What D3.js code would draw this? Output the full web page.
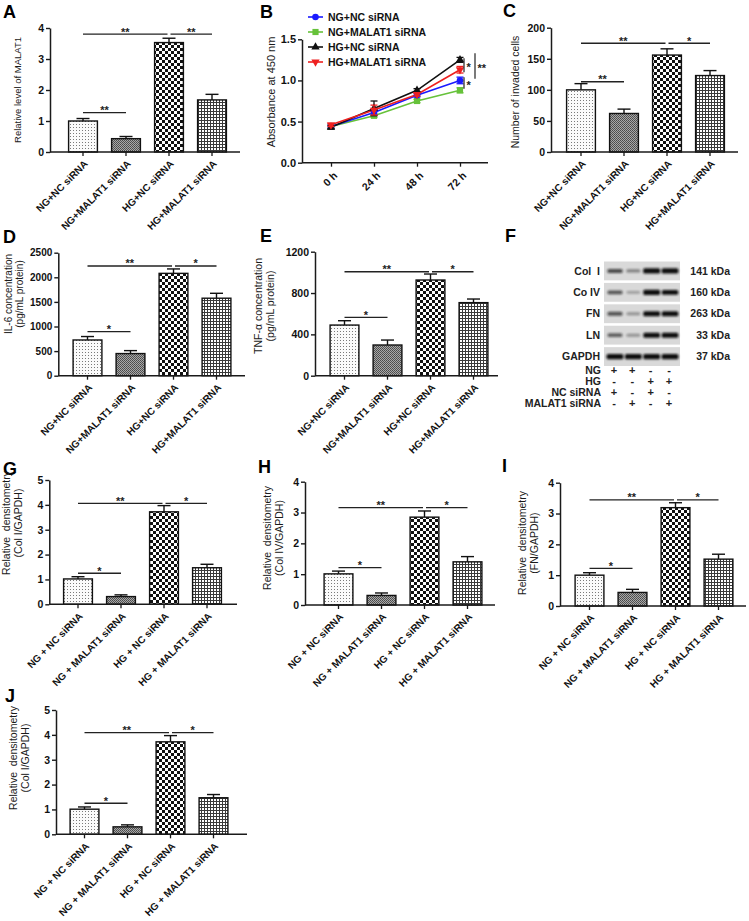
<!DOCTYPE html>
<html><head><meta charset="utf-8">
<script src="https://cdn.jsdelivr.net/npm/d3@7/dist/d3.min.js"></script>
<style>
body{margin:0;background:#fff;}
svg{display:block;font-family:"Liberation Sans",Arial,sans-serif;}
text{white-space:pre;}
</style></head><body>
<svg id="c" width="749" height="921"></svg>
<script>
// ---------------- DATA ----------------
const groups1 = ["NG+NC siRNA","NG+MALAT1 siRNA","HG+NC siRNA","HG+MALAT1 siRNA"];
const groups2 = ["NG + NC siRNA","NG + MALAT1 siRNA","HG + NC siRNA","HG + MALAT1 siRNA"];

const malat1Mean = [1.0, 0.43, 3.53, 1.68];
const malat1Sem  = [0.08, 0.07, 0.14, 0.18];
const malat1Ticks = [0,1,2,3,4];
const malat1Sig = [[0,1,1.27,"**"],[0,2,3.80,"**"],[2,3,3.80,"**"]];

const hours = ["0 h","24 h","48 h","72 h"];
const ccSeries = ["NG+NC siRNA","NG+MALAT1 siRNA","HG+NC siRNA","HG+MALAT1 siRNA"];
const ccNGNC   = [0.44, 0.61, 0.82, 1.00];
const ccNGMAL  = [0.44, 0.57, 0.75, 0.88];
const ccHGNC   = [0.43, 0.66, 0.88, 1.25];
const ccHGMAL  = [0.46, 0.64, 0.83, 1.13];
const ccErrNGNC  = [0.02, 0.03, 0.02, 0.04];
const ccErrNGMAL = [0.02, 0.02, 0.02, 0.03];
const ccErrHGNC  = [0.02, 0.09, 0.02, 0.03];
const ccErrHGMAL = [0.02, 0.06, 0.02, 0.04];
const ccTicks = [0, 0.5, 1.0, 1.5];
const ccSig = [[1.27, 1.10, "*"], [1.33, 1.02, "**"], [1.04, 0.90, "*"]];

const invMean = [100, 62, 156, 123];
const invSem  = [10, 7, 10, 8];
const invTicks = [0,50,100,150,200];
const invSig = [[0,1,113,"**"],[0,2,175,"**"],[2,3,175,"*"]];

const il6Mean = [726, 450, 2080, 1575];
const il6Sem  = [70, 60, 90, 100];
const il6Ticks = [0,500,1000,1500,2000,2500];
const il6Sig = [[0,1,894,"*"],[0,2,2230,"**"],[2,3,2230,"*"]];

const tnfMean = [490, 297, 926, 707];
const tnfSem  = [42, 48, 58, 35];
const tnfTicks = [0,400,800,1200];
const tnfSig = [[0,1,565,"*"],[0,2,1006,"**"],[2,3,1006,"*"]];

const proteins = ["Col  I","Co IV","FN","LN","GAPDH"];
const kda = ["141 kDa","160 kDa","263 kDa","33 kDa","37 kDa"];
const bandIntensity = [
  [0.55, 0.28, 1.0, 0.95],
  [0.50, 0.15, 0.95, 0.85],
  [0.50, 0.20, 0.95, 0.90],
  [0.45, 0.20, 0.90, 0.90],
  [0.95, 0.95, 0.95, 0.95]
];
const condRows = ["NG","HG","NC siRNA","MALAT1 siRNA"];
const condSigns = [["+","+","-","-"],["-","-","+","+"],["+","-","+","-"],["-","+","-","+"]];

const col1Mean = [1.02, 0.31, 3.72, 1.47];
const col1Sem  = [0.09, 0.07, 0.25, 0.14];
const col4Mean = [1.01, 0.31, 2.85, 1.40];
const col4Sem  = [0.09, 0.08, 0.20, 0.17];
const fnMean   = [1.00, 0.44, 3.19, 1.52];
const fnSem    = [0.08, 0.10, 0.16, 0.16];
const lnMean   = [1.01, 0.30, 3.72, 1.47];
const lnSem    = [0.09, 0.08, 0.25, 0.13];
const ticks5 = [0,1,2,3,4,5];
const ticks4 = [0,1,2,3,4];
const col1Sig = [[0,1,1.25,"*"],[0,2,4.06,"**"],[2,3,4.06,"*"]];
const col4Sig = [[0,1,1.21,"*"],[0,2,3.16,"**"],[2,3,3.16,"*"]];
const fnSig   = [[0,1,1.22,"*"],[0,2,3.44,"**"],[2,3,3.44,"*"]];
const lnSig   = [[0,1,1.25,"*"],[0,2,4.09,"**"],[2,3,4.09,"*"]];

// ---------------- DRAW ----------------
const svg = d3.select("#c");
const defs = svg.append("defs");
function pat(id, w, h, draw){
  const p = defs.append("pattern").attr("id",id).attr("patternUnits","userSpaceOnUse").attr("width",w).attr("height",h);
  draw(p);
}
pat("p0",3,3,p=>{
  p.append("rect").attr("width",3).attr("height",3).attr("fill","#fbfbfb");
  p.append("rect").attr("x",1).attr("y",1).attr("width",1).attr("height",1).attr("fill","#7a7a7a");
});
pat("p1",2,2,p=>{
  p.append("rect").attr("width",2).attr("height",2).attr("fill","#a8a8a8");
  p.append("rect").attr("width",1).attr("height",1).attr("fill","#4a4a4a");
  p.append("rect").attr("x",1).attr("y",1).attr("width",1).attr("height",1).attr("fill","#555");
});
pat("p2",6,6,p=>{
  p.append("rect").attr("width",6).attr("height",6).attr("fill","#fff");
  p.append("rect").attr("width",3).attr("height",3).attr("fill","#111");
  p.append("rect").attr("x",3).attr("y",3).attr("width",3).attr("height",3).attr("fill","#111");
});
pat("p3",3,3,p=>{
  p.append("rect").attr("width",3).attr("height",3).attr("fill","#fff");
  p.append("path").attr("d","M0,0.5H3M0.5,0V3").attr("stroke","#3a3a3a").attr("stroke-width",1);
});
const blur = defs.append("filter").attr("id","blur").attr("x","-20%").attr("y","-60%").attr("width","140%").attr("height","220%");
blur.append("feGaussianBlur").attr("stdDeviation",0.8);

const AX = "#1a1a1a";
const fmtInt = d3.format("d");

function letter(t,x,y){
  svg.append("text").attr("x",x).attr("y",y).text(t)
    .attr("font-size",18).attr("font-weight","bold").attr("fill","#000");
}
function yTitle(lines, cx, cy, size){
  const n = lines.length, lh = size*1.12;
  lines.forEach((l,i)=>{
    const x = cx + (i-(n-1)/2)*lh;
    svg.append("text").attr("transform",`translate(${x},${cy}) rotate(-90)`)
      .attr("text-anchor","middle").attr("dy","0.35em")
      .attr("font-size",size).attr("fill","#1a1a1a").text(l);
  });
}
function styleYAxis(ya, fs){
  ya.select(".domain").attr("stroke",AX).attr("stroke-width",1.5);
  ya.selectAll(".tick line").attr("stroke",AX).attr("stroke-width",1.4);
  ya.selectAll(".tick text").attr("font-size",fs).attr("font-weight","bold").attr("fill","#111")
    .attr("font-family","Liberation Sans, Arial, sans-serif");
}

function barPanel(cfg){
  const g = svg.append("g");
  const y = d3.scaleLinear().domain([0,cfg.max]).range([cfg.yZero,cfg.yTop]);
  const step = 43;
  const x = d3.scaleBand().domain(cfg.labels)
    .range([cfg.c1-step/2, cfg.c1-step/2+4*step]).paddingInner(0.33).paddingOuter(0.165);
  const cx = i => x(cfg.labels[i]) + x.bandwidth()/2;
  // error bars
  cfg.means.forEach((m,i)=>{
    const top = y(m+cfg.sems[i]);
    g.append("line").attr("x1",cx(i)).attr("x2",cx(i)).attr("y1",y(m)).attr("y2",top)
      .attr("stroke","#111").attr("stroke-width",1.4);
    g.append("line").attr("x1",cx(i)-6.5).attr("x2",cx(i)+6.5).attr("y1",top).attr("y2",top)
      .attr("stroke","#111").attr("stroke-width",1.4);
  });
  // bars
  g.selectAll("rect.bar").data(cfg.means).join("rect").attr("class","bar")
    .attr("x",(d,i)=>x(cfg.labels[i])).attr("y",d=>y(d))
    .attr("width",x.bandwidth()).attr("height",d=>y(0)-y(d))
    .attr("fill",(d,i)=>`url(#p${i})`).attr("stroke","#111").attr("stroke-width",1.4);
  // y axis
  const ya = g.append("g").attr("transform",`translate(${cfg.x0},0)`)
    .call(d3.axisLeft(y).tickValues(cfg.ticks).tickFormat(fmtInt).tickSize(4).tickSizeOuter(0).tickPadding(2));
  styleYAxis(ya, cfg.tickFs || 10.5);
  // x axis
  g.append("line").attr("x1",cfg.x0).attr("x2",cfg.axisEnd).attr("y1",y(0)).attr("y2",y(0))
    .attr("stroke",AX).attr("stroke-width",1.5);
  const xa = g.append("g").attr("transform",`translate(0,${y(0)})`)
    .call(d3.axisBottom(x).tickSize(4).tickSizeOuter(0));
  xa.select(".domain").remove();
  xa.selectAll(".tick line").attr("stroke",AX).attr("stroke-width",1.3);
  xa.selectAll(".tick text").attr("x",0).attr("y",0).attr("dy","0.35em")
    .attr("transform","translate(3,10) rotate(-45)").style("text-anchor","end")
    .attr("font-size",cfg.xFs || 10).attr("font-weight","bold").attr("fill","#111")
    .attr("font-family","Liberation Sans, Arial, sans-serif");
  // significance
  cfg.sig.forEach(([a,b,v,lab])=>{
    const x1 = cx(a) + (a===2?1.5:0), x2 = cx(b) - (b===2?1.5:0), yy = y(v);
    g.append("line").attr("x1",x1).attr("x2",x2).attr("y1",yy).attr("y2",yy)
      .attr("stroke","#222").attr("stroke-width",1.3);
    g.append("text").attr("x",(x1+x2)/2).attr("y",yy+1.5).attr("text-anchor","middle")
      .attr("font-size",11).attr("font-weight","bold").attr("fill","#222").text(lab);
  });
  letter(cfg.letter, cfg.lx, cfg.ly);
  yTitle(cfg.title, cfg.tx, cfg.ty, cfg.tfs);
}

// A
barPanel({letter:"A",lx:3,ly:18,labels:groups1,means:malat1Mean,sems:malat1Sem,ticks:malat1Ticks,max:4,
  x0:50,c1:83,yZero:152,yTop:28,axisEnd:240,sig:malat1Sig,title:["Relative level of MALAT1"],tx:18,ty:90,tfs:9.5});
// C
barPanel({letter:"C",lx:503,ly:17,labels:groups1,means:invMean,sems:invSem,ticks:invTicks,max:200,
  x0:551,c1:581,yZero:152,yTop:27.7,axisEnd:738,sig:invSig,title:["Number of invaded cells"],tx:515,ty:92,tfs:10.5});
// D
barPanel({letter:"D",lx:3,ly:243,labels:groups1,means:il6Mean,sems:il6Sem,ticks:il6Ticks,max:2500,
  x0:58.3,c1:87.5,yZero:375.7,yTop:252.7,axisEnd:245,sig:il6Sig,title:["IL-6 concentration","(pg/mL protein)"],tx:14,ty:294,tfs:10,tickFs:10});
// E
barPanel({letter:"E",lx:260,ly:242,labels:groups1,means:tnfMean,sems:tnfSem,ticks:tnfTicks,max:1200,
  x0:315,c1:344.5,yZero:375.7,yTop:251.7,axisEnd:498,sig:tnfSig,title:["TNF-α concentration","(pg/mL protein)"],tx:264,ty:306,tfs:10.5});
// G
barPanel({letter:"G",lx:3,ly:475,labels:groups2,means:col1Mean,sems:col1Sem,ticks:ticks5,max:5,
  x0:49.3,c1:78,yZero:604.3,yTop:480,axisEnd:237,sig:col1Sig,title:["Relative  densitometry","(Col I/GAPDH)"],tx:12.5,ty:523,tfs:10.5});
// H
barPanel({letter:"H",lx:258,ly:473,labels:groups2,means:col4Mean,sems:col4Sem,ticks:ticks4,max:4,
  x0:305,c1:338.5,yZero:605,yTop:481.7,axisEnd:495,sig:col4Sig,title:["Relative  densitometry","(Col IV/GAPDH)"],tx:273.5,ty:538,tfs:10.5});
// I
barPanel({letter:"I",lx:502,ly:472,labels:groups2,means:fnMean,sems:fnSem,ticks:ticks4,max:4,
  x0:560,c1:589.5,yZero:606,yTop:482.7,axisEnd:746,sig:fnSig,title:["Relative  densitometry","(FN/GAPDH)"],tx:528,ty:543,tfs:10.5});
// J
barPanel({letter:"J",lx:5,ly:702,labels:groups2,means:lnMean,sems:lnSem,ticks:ticks5,max:5,
  x0:56,c1:84.5,yZero:834.3,yTop:710,axisEnd:247,sig:lnSig,title:["Relative  densitometry","(Col I/GAPDH)"],tx:19,ty:758,tfs:10.5});

// ---------------- B: line chart ----------------
(function(){
  const g = svg.append("g");
  const y = d3.scaleLinear().domain([0,1.5]).range([162.7,39.3]);
  const x = d3.scalePoint().domain(hours).range([331,460]);
  const x0 = 302, axisEnd = 488;
  const series = [
    {name:ccSeries[0], v:ccNGNC,  e:ccErrNGNC,  color:"#1a1aff", sym:d3.symbolCircle, size:34},
    {name:ccSeries[1], v:ccNGMAL, e:ccErrNGMAL, color:"#66c23a", sym:d3.symbolSquare, size:38},
    {name:ccSeries[2], v:ccHGNC,  e:ccErrHGNC,  color:"#111111", sym:d3.symbolTriangle, size:30},
    {name:ccSeries[3], v:ccHGMAL, e:ccErrHGMAL, color:"#ee2020", sym:d3.symbolTriangle, size:30, rot:180}
  ];
  const line = d3.line().x((d,i)=>x(hours[i])).y(d=>y(d));
  const order = [1,0,2,3];
  order.forEach(k=>{
    const s = series[k];
    g.append("path").attr("d",line(s.v)).attr("fill","none").attr("stroke",s.color).attr("stroke-width",1.6);
  });
  order.forEach(k=>{
    const s = series[k];
    s.v.forEach((v,i)=>{
      const cx = x(hours[i]);
      g.append("line").attr("x1",cx).attr("x2",cx).attr("y1",y(v-s.e[i])).attr("y2",y(v+s.e[i]))
        .attr("stroke",s.color).attr("stroke-width",1.3);
      [v-s.e[i], v+s.e[i]].forEach(w=>g.append("line").attr("x1",cx-3.5).attr("x2",cx+3.5)
        .attr("y1",y(w)).attr("y2",y(w)).attr("stroke",s.color).attr("stroke-width",1.3));
      g.append("path").attr("d",d3.symbol(s.sym,s.size)())
        .attr("transform",`translate(${cx},${y(v)})${s.rot?" rotate(180)":""}`).attr("fill",s.color);
    });
  });
  // axes
  const ya = g.append("g").attr("transform",`translate(${x0},0)`)
    .call(d3.axisLeft(y).tickValues(ccTicks).tickFormat(d3.format(".1f")).tickSize(4).tickSizeOuter(0).tickPadding(2));
  styleYAxis(ya, 11);
  g.append("line").attr("x1",x0).attr("x2",axisEnd).attr("y1",y(0)).attr("y2",y(0)).attr("stroke",AX).attr("stroke-width",1.5);
  const xa = g.append("g").attr("transform",`translate(0,${y(0)})`).call(d3.axisBottom(x).tickSize(4).tickSizeOuter(0));
  xa.select(".domain").remove();
  xa.selectAll(".tick line").attr("stroke",AX).attr("stroke-width",1.3);
  xa.selectAll(".tick text").attr("x",0).attr("y",0).attr("dy","0.35em")
    .attr("transform","translate(4,11) rotate(-45)").style("text-anchor","end")
    .attr("font-size",10.5).attr("font-weight","bold").attr("fill","#111")
    .attr("font-family","Liberation Sans, Arial, sans-serif");
  // significance brackets (vertical)
  const sx = [464, 475, 464];
  ccSig.forEach(([a,b,lab],i)=>{
    g.append("line").attr("x1",sx[i]).attr("x2",sx[i]).attr("y1",y(a)).attr("y2",y(b))
      .attr("stroke","#222").attr("stroke-width",1.2);
    g.append("text").attr("x",sx[i]+2.5).attr("y",(y(a)+y(b))/2+6).attr("font-size",11)
      .attr("font-weight","bold").attr("fill","#222").text(lab);
  });
  // legend
  const ly = d3.scalePoint().domain(ccSeries).range([17,62]);
  series.forEach(s=>{
    const yy = ly(s.name);
    g.append("line").attr("x1",308).attr("x2",323).attr("y1",yy).attr("y2",yy).attr("stroke",s.color).attr("stroke-width",1.6);
    g.append("path").attr("d",d3.symbol(s.sym,s.size)()).attr("transform",`translate(315.5,${yy})${s.rot?" rotate(180)":""}`).attr("fill",s.color);
    g.append("text").attr("x",328).attr("y",yy).attr("dy","0.35em").attr("font-size",10.5).attr("font-weight","bold")
      .attr("fill","#111").text(s.name);
  });
  letter("B",260,18);
  yTitle(["Absorbance at 450 nm"],271,92,11);
})();

// ---------------- F: western blot ----------------
(function(){
  const g = svg.append("g");
  const rows = d3.scaleBand().domain(proteins).range([261.5,366]).paddingInner(0.12);
  const lanes = d3.scalePoint().domain([0,1,2,3]).range([615,670]);
  proteins.forEach((p,r)=>{
    const y0 = rows(p), h = rows.bandwidth(), cy = y0 + h/2;
    g.append("rect").attr("x",604).attr("y",y0).attr("width",76).attr("height",h).attr("fill","#d9d9d9");
    bandIntensity[r].forEach((v,l)=>{
      const w = 13 + 4*v, bh = 2.5 + 2.8*v;
      g.append("rect").attr("x",lanes(l)-w/2).attr("y",cy-bh/2).attr("width",w).attr("height",bh).attr("rx",1.5)
        .attr("fill","#111").attr("opacity",Math.min(1,0.15+v)).attr("filter","url(#blur)");
    });
    g.append("text").attr("x",600).attr("y",cy).attr("dy","0.35em").attr("text-anchor","end")
      .attr("font-size",10.5).attr("font-weight","bold").attr("fill","#222").text(p);
    g.append("text").attr("x",730).attr("y",cy).attr("dy","0.35em").attr("text-anchor","end")
      .attr("font-size",10.5).attr("font-weight","bold").attr("fill","#222").text(kda[r]);
  });
  const cr = d3.scalePoint().domain(condRows).range([370,403.5]);
  condRows.forEach((c,r)=>{
    const yy = cr(c);
    g.append("text").attr("x",601).attr("y",yy).attr("dy","0.35em").attr("text-anchor","end")
      .attr("font-size",10.5).attr("font-weight","bold").attr("fill","#222").text(c);
    condSigns[r].forEach((s,l)=>{
      g.append("text").attr("x",lanes(l)-1).attr("y",yy).attr("dy","0.35em").attr("text-anchor","middle")
        .attr("font-size",11).attr("font-weight","bold").attr("fill","#222").text(s);
    });
  });
  letter("F",505,242);
})();
</script>
</body></html>
